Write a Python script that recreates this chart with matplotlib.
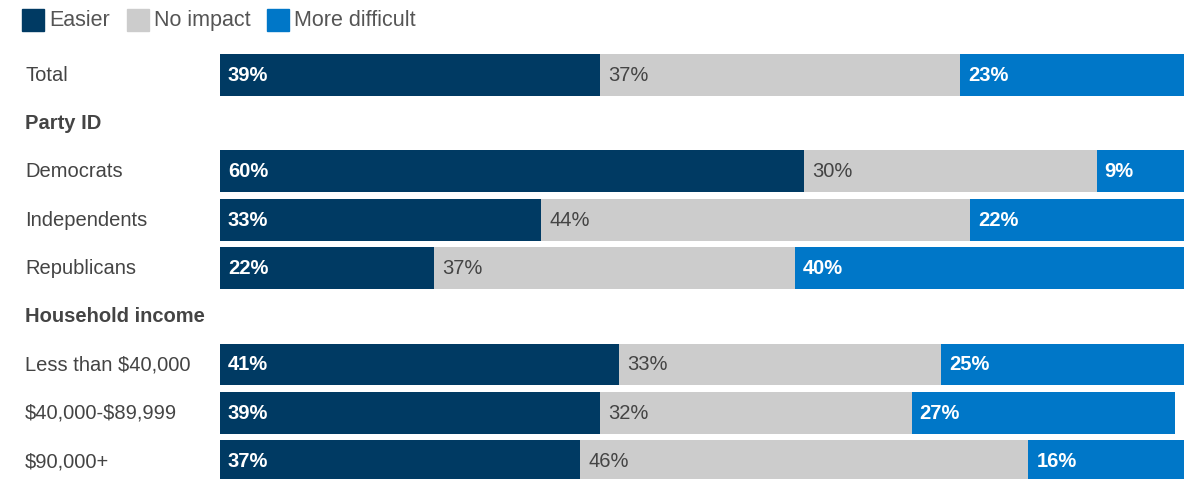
import matplotlib
matplotlib.use('Agg')
import matplotlib.pyplot as plt
import matplotlib.transforms as mtransforms
from matplotlib.patches import Rectangle

# Row labels, top to bottom; headers have no data
rows = ['Total', 'Party ID', 'Democrats', 'Independents', 'Republicans',
        'Household income', 'Less than \\$40,000', '\\$40,000-\\$89,999', '\\$90,000+']
headers = ['Party ID', 'Household income']

easier    = [39, None, 60, 33, 22, None, 41, 39, 37]
no_impact = [37, None, 30, 44, 37, None, 33, 32, 46]
harder    = [23, None,  9, 22, 40, None, 25, 27, 16]

series = ['Easier', 'No impact', 'More difficult']
colors = ['#003a63', '#cccccc', '#0077c8']
txt_colors = ['white', '#444444', 'white']
txt_weights = ['bold', 'normal', 'bold']

plt.rcParams['font.family'] = ['Liberation Sans', 'DejaVu Sans']

W, H = 1191, 479
fig = plt.figure(figsize=(W / 100, H / 100), dpi=100)

# axes: x in percent, 1% ~ 9.74 px, bars start at px 220
ax = fig.add_axes([220 / W, 0, 974 / W, 1])
ax.set_xlim(0, 100)
ax.set_ylim(8.373, -1.554)
ax.axis('off')

lbl_tr = mtransforms.blended_transform_factory(fig.transFigure, ax.transData)
lbl_tr = mtransforms.offset_copy(lbl_tr, fig=fig, x=0, y=-6, units='dots')
val_tr = mtransforms.offset_copy(ax.transData, fig=fig, x=8, y=-6, units='dots')

for i, name in enumerate(rows):
    if name in headers:
        fig.text(25 / W, i, name, transform=lbl_tr, va='baseline', ha='left',
                 fontsize=14.5, fontweight='bold', color='#444444')
        continue
    fig.text(25 / W, i, name, transform=lbl_tr, va='baseline', ha='left',
             fontsize=14.5, color='#444444')
    left = 0
    for vals, c, tc, tw in zip([easier, no_impact, harder], colors, txt_colors, txt_weights):
        v = vals[i]
        ax.barh(i, v, left=left, height=0.87, color=c, edgecolor='none')
        ax.text(left, i, f'{v}%', transform=val_tr, va='baseline', ha='left',
                fontsize=14.5, color=tc, fontweight=tw)
        left += v

# legend
lx = [22, 127, 267]
for x, name, c in zip(lx, series, colors):
    fig.patches.append(Rectangle((x / W, 1 - 31 / H), 22 / W, 22 / H,
                                 transform=fig.transFigure, color=c))
    fig.text((x + 27) / W, 1 - 26 / H, name, va='baseline', ha='left',
             fontsize=15.5, color='#555555')

fig.savefig('out.png', dpi=100)
